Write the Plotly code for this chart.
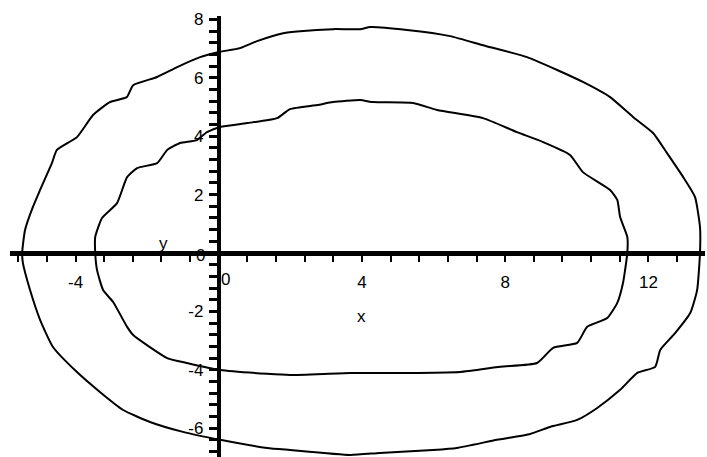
import plotly.graph_objects as go

# outer closed curve
outer_x = [-5.41, -5.19, -4.99, -4.66, -4.52, -3.96, -3.51, -3.04, -2.57, -2.39,
           -1.72, -1.16, -0.52, -0.02, 0.59, 1.07, 1.80, 2.27, 3.19, 3.95,
           4.23, 5.26, 6.46, 7.38, 8.61, 9.45, 10.17, 10.93, 11.57, 12.13,
           12.52, 12.97, 13.30, 13.44, 13.44, 13.36, 13.17, 12.75, 12.33, 12.19,
           11.69, 11.21, 10.57, 10.01, 9.25, 8.70, 7.77, 6.65, 5.98, 4.50,
           3.67, 1.99, 1.35, 0.04, -1.00, -1.92, -2.67, -3.32, -3.96, -4.63,
           -4.99, -5.27, -5.47, -5.49, -5.41]
outer_y = [0.79, 1.58, 2.16, 3.08, 3.53, 3.97, 4.73, 5.17, 5.34, 5.75,
           6.03, 6.37, 6.71, 6.88, 7.02, 7.26, 7.53, 7.60, 7.67, 7.67,
           7.74, 7.64, 7.43, 7.12, 6.71, 6.27, 5.86, 5.34, 4.66, 4.11,
           3.42, 2.60, 1.92, 0.89, 0.00, -1.27, -2.05, -2.74, -3.32, -3.90,
           -4.11, -4.69, -5.31, -5.72, -5.96, -6.20, -6.40, -6.68, -6.75, -6.85,
           -6.92, -6.75, -6.68, -6.40, -6.13, -5.79, -5.38, -4.76, -4.08, -3.22,
           -2.29, -1.27, -0.34, 0.00, 0.79]

# inner closed curve
inner_x = [-3.45, -3.26, -2.84, -2.56, -2.28, -1.72, -1.44, -1.08, -0.61, -0.33,
           0.04, 0.79, 1.63, 1.99, 2.75, 3.19, 3.95, 4.31, 5.43, 6.10,
           7.38, 8.33, 9.06, 9.81, 10.17, 10.93, 11.13, 11.21, 11.41, 11.41,
           11.29, 11.13, 10.85, 10.29, 10.01, 9.34, 8.89, 7.86, 6.74, 5.54,
           3.67, 1.99, 1.35, 0.04, -0.89, -1.44, -2.39, -2.56, -2.95, -3.23,
           -3.40, -3.45, -3.45]
inner_y = [0.55, 1.20, 1.71, 2.60, 2.91, 3.08, 3.53, 3.77, 3.87, 4.14,
           4.32, 4.45, 4.62, 4.93, 5.07, 5.17, 5.24, 5.17, 5.14, 4.90,
           4.62, 4.14, 3.80, 3.36, 2.77, 2.16, 1.82, 1.23, 0.55, 0.00,
           -1.03, -1.71, -2.23, -2.53, -3.08, -3.25, -3.77, -3.90, -4.08, -4.11,
           -4.11, -4.18, -4.14, -4.01, -3.77, -3.60, -2.81, -2.53, -1.68, -1.27,
           -0.58, 0.00, 0.55]

x_ticks = [-4, 4, 8, 12]
x_tick_text = ['-4', '4', '8', '12']
y_ticks = [-6, -4, -2, 2, 4, 6, 8]
y_tick_text = ['-6', '-4', '-2', '2', '4', '6', '8']

x_range = [-5.83, 13.58]
y_range = [-6.99, 8.12]

font = dict(family='Liberation Sans, Arial, sans-serif', size=17, color='black')

fig = go.Figure()
for xs, ys in [(outer_x, outer_y), (inner_x, inner_y)]:
    fig.add_trace(go.Scatter(
        x=xs, y=ys, mode='lines',
        line=dict(color='black', width=2, shape='spline', smoothing=0.5),
        hoverinfo='skip', showlegend=False, cliponaxis=False
    ))

# axes cross at the origin
x_pos = (0 - y_range[0]) / (y_range[1] - y_range[0])
y_pos = (0 - x_range[0]) / (x_range[1] - x_range[0])

fig.update_layout(
    width=707,
    height=457,
    margin=dict(l=10, r=2, t=16, b=0),
    paper_bgcolor='white',
    plot_bgcolor='white',
    font=font,
    xaxis=dict(
        range=x_range, anchor='free', position=x_pos, automargin=False,
        showline=True, linewidth=5, linecolor='black',
        showgrid=False, zeroline=False,
        tickmode='array', tickvals=x_ticks, ticktext=x_tick_text,
        ticks='outside', ticklen=6, tickwidth=2, tickcolor='black',
        ticklabelstandoff=6, tickfont=font,
        minor=dict(dtick=0.8, tick0=0, ticks='outside', ticklen=6,
                   tickwidth=2, tickcolor='black', showgrid=False),
    ),
    yaxis=dict(
        range=y_range, anchor='free', position=y_pos, automargin=False,
        showline=True, linewidth=4, linecolor='black',
        showgrid=False, zeroline=False,
        tickmode='array', tickvals=y_ticks, ticktext=y_tick_text,
        ticks='outside', ticklen=8, tickwidth=3, tickcolor='black',
        ticklabelstandoff=2, tickfont=font,
        minor=dict(dtick=0.4, tick0=0, ticks='outside', ticklen=8,
                   tickwidth=3, tickcolor='black', showgrid=False),
    ),
    annotations=[
        dict(x=4.0, y=-2.16, text='x', showarrow=False, font=font),
        dict(x=-1.55, y=0.34, text='y', showarrow=False, font=font),
        dict(x=0.2, y=-0.9, text='0', showarrow=False, font=font),
        dict(x=-0.52, y=-0.07, text='0', showarrow=False, font=font),
    ],
)

# drop the browser's default page margin so the figure sits at 0,0
fig.write_html("out.html", config={'displayModeBar': False},
               post_script="document.body.style.margin='0';")
